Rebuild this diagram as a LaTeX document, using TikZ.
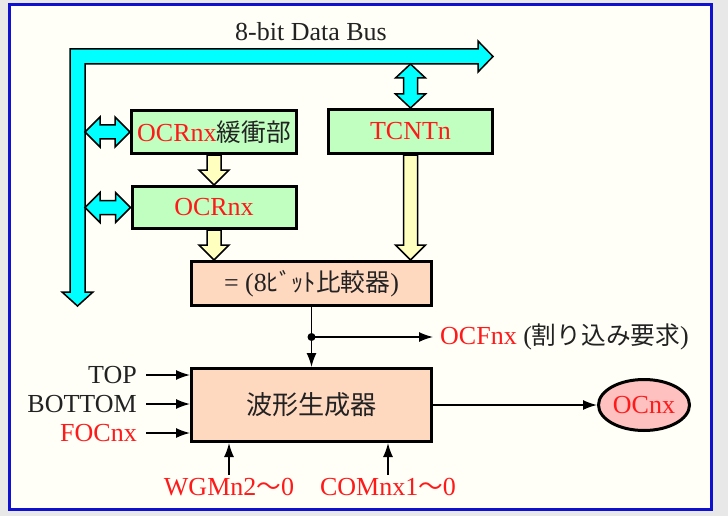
\documentclass[tikz,border=0pt]{standalone}
\usepackage{fontspec}
\setmainfont{Liberation Serif}
\newfontfamily\jp[Scale=0.95]{Noto Sans CJK JP}
\usetikzlibrary{positioning,calc,arrows.meta,shapes.geometric}
\definecolor{bgout}{HTML}{E8E8E8}
\definecolor{paper}{HTML}{FFFFF7}
\definecolor{frameblue}{HTML}{1010D0}
\definecolor{buscyan}{HTML}{00FFFF}
\definecolor{regfill}{HTML}{C0FFC0}
\definecolor{cmpfill}{HTML}{FFD8C0}
\definecolor{pinfill}{HTML}{FFC0C0}
\definecolor{fatyel}{HTML}{FFFFC0}
\definecolor{sigred}{HTML}{FF1A1A}
\definecolor{ink}{HTML}{222222}
\tikzset{regbox/.style={draw, line width=3pt, fill=regfill, inner sep=0pt, minimum width=164pt, minimum height=43pt}}
\tikzset{cmpbox/.style={draw, line width=3pt, fill=cmpfill, inner sep=0pt, minimum width=240pt}}
\tikzset{pinbox/.style={draw, line width=3pt, fill=pinfill, ellipse, inner sep=0pt, minimum width=91pt, minimum height=51pt}}
\tikzset{fatarr/.style={draw=black, line width=1.5pt, line join=miter}}
\tikzset{sig/.style={draw, -{Latex[length=14pt,width=10pt]}, line width=1.5pt}}
\newcommand{\red}[1]{\textcolor{sigred}{#1}}
% fat arrows between blocks
\newcommand{\fatdown}[2]{%
  \draw[fatarr, fill=fatyel] ($(#1)+(-7,0)$) -- ($(#2)+(-7,-15)$) -- ($(#2)+(-15,-15)$) -- (#2) -- ($(#2)+(15,-15)$) -- ($(#2)+(7,-15)$) -- ($(#1)+(7,0)$) -- cycle;}
\newcommand{\fathboth}[2]{%
  \draw[fatarr, fill=buscyan] (#1) -- ($(#1)+(15,-15)$) -- ($(#1)+(15,-7)$) -- ($(#2)+(-15,-7)$) -- ($(#2)+(-15,-15)$) -- (#2) -- ($(#2)+(-15,15)$) -- ($(#2)+(-15,7)$) -- ($(#1)+(15,7)$) -- ($(#1)+(15,15)$) -- cycle;}
\newcommand{\fatvboth}[2]{%
  \draw[fatarr, fill=buscyan] (#1) -- ($(#1)+(15,14)$) -- ($(#1)+(7,14)$) -- ($(#2)+(7,-14)$) -- ($(#2)+(15,-14)$) -- (#2) -- ($(#2)+(-15,-14)$) -- ($(#2)+(-7,-14)$) -- ($(#1)+(-7,14)$) -- ($(#1)+(-15,14)$) -- cycle;}
\begin{document}
\begin{tikzpicture}[x=1pt, y=-1pt, every node/.style={text=ink, font=\fontsize{26}{31}\selectfont}]
  \useasboundingbox (0,0) rectangle (728,516);
  \fill[bgout] (0,0) rectangle (728,516);
  \draw[frameblue, line width=3pt, fill=paper] (9.5,4.5) rectangle (711.5,509.5);
  % data bus
  \draw[fatarr, fill=buscyan] (70,292) -- (70,49) -- (478,49) -- (478,41) -- (493,56.5) -- (478,72) -- (478,64) -- (85,64) -- (85,292) -- (93,292) -- (77.5,306) -- (62,292) -- cycle;
  \coordinate (busin) at (85,64);
  \node (busname) at (311,32) {8-bit Data Bus};

  \node[regbox, minimum width=165pt] (buf) at (214,132) {\red{OCRnx}{\jp 緩衝部}};
  \node[regbox, minimum height=42pt] (ocr) at (214,207.5) {\red{OCRnx}};
  \node[regbox, minimum height=44pt] (tcnt) at (410.5,131.5) {\red{TCNTn}};
  \node[cmpbox, minimum height=44pt] (cmp) at (311.5,283.5) {= (8{\jp ﾋﾞｯﾄ比較器})};
  \node[cmpbox, minimum height=73pt, font=\fontsize{27.5}{32}\selectfont] (wave) at (311.5,405) {{\jp 波形生成器}};
  \node[pinbox] (ocnx) at (644,405) {\red{OCnx}};

  \fathboth{busin |- buf.west}{buf.west}
  \fathboth{busin |- ocr.west}{ocr.west}
  \fatvboth{tcnt.north |- busin}{tcnt.north}
  \fatdown{buf.south}{ocr.north}
  \fatdown{ocr.south}{ocr.south |- cmp.north}
  \fatdown{tcnt.south}{tcnt.south |- cmp.north}

  \coordinate (jn) at ($(cmp.south)!0.5!(wave.north)$);
  \node[anchor=west, inner sep=3pt] (ocf) at (437,337) {\red{OCFnx} ({\jp 割り込み要求})};
  \draw[line width=1.5pt] (cmp.south) -- (jn);
  \draw[sig] (jn) -- (wave.north);
  \draw[sig, shorten >=4pt] (jn) -- (jn -| ocf.west);
  \fill (jn) circle (4);

  \node[anchor=east, inner sep=3pt] (top) at (140,375) {TOP};
  \node[anchor=east, inner sep=3pt] (bottom) at (140,404) {BOTTOM};
  \node[anchor=east, inner sep=3pt] (foc) at (140,433) {\red{FOCnx}};
  \foreach \n in {top,bottom,foc}
    \draw[sig, shorten <=6pt] (\n.east) -- (\n.east -| wave.west);

  \node (wgm) at (229,487) {\red{WGMn2{\jp ～}0}};
  \node (com) at (388,487) {\red{COMnx1{\jp ～}0}};
  \draw[sig] (wgm.north) -- (wgm.north |- wave.south);
  \draw[sig] (com.north) -- (com.north |- wave.south);
  \draw[sig] (wave.east) -- (ocnx.west);
\end{tikzpicture}
\end{document}
